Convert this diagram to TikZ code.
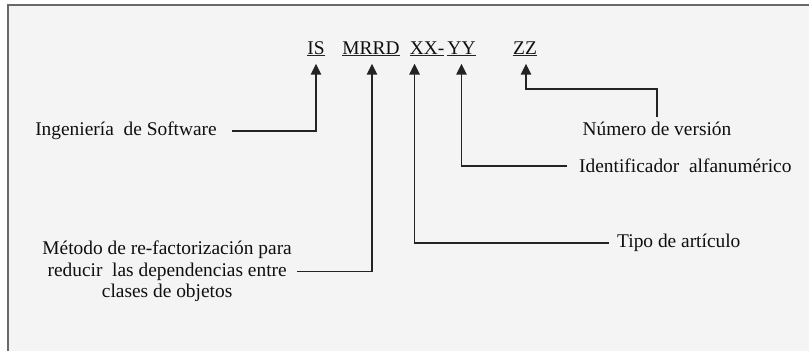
\documentclass[tikz,border=0pt]{standalone}
\usepackage{fontspec}
\setmainfont{Liberation Serif}
\usepackage{tikz}
\usetikzlibrary{arrows.meta}
\definecolor{fondo}{RGB}{244,244,244}
\definecolor{marco}{RGB}{105,105,105}
\definecolor{linea}{RGB}{35,35,35}
\definecolor{texto}{RGB}{15,15,15}

\begin{document}
\begin{tikzpicture}[x=1pt,y=-1pt,font=\fontsize{19.4}{21.5}\selectfont,
		codigo/.style={anchor=base,inner sep=0pt,text depth=1.5pt,text=texto},
		etiqueta/.style={inner sep=0pt,text=texto},
		flecha/.style={linea,line width=1.5pt,-{Triangle[width=10.5pt,length=11pt]},shorten >=8pt},
		subrayado/.style={linea,line width=1pt}]
	\useasboundingbox (0,0) rectangle (809,351);
	\fill[fondo] (8,5) rectangle (809,351);
	\draw[marco,line width=1.4pt] (8,351) -- (8,5) -- (809,5);
	
	\node[codigo] (is) at (316,54) {IS};
	\node[codigo] (mrrd) at (371,54) {MRRD};
	\node[codigo] (xx) at (427,54) {XX-};
	\node[codigo] (yy) at (461.5,54) {YY};
	\node[codigo] (zz) at (525,54) {ZZ};
	\foreach \n in {is,mrrd,xx,yy,zz}
	\draw[subrayado] (\n.south west) -- (\n.south east);
	
	\node[etiqueta,anchor=east,inner xsep=15pt] (ing) at (232,131) {Ingeniería~ de Software};
	\node[etiqueta,anchor=east,inner xsep=5pt,align=center] (met) at (297,271.5) {Método de re-factorización para\\reducir~ las dependencias entre\\clases de objetos};
	\node[etiqueta,anchor=north,inner ysep=5pt] (num) at (657,117) {Número de versión};
	\node[etiqueta,anchor=west,inner xsep=12pt] (ident) at (567,166) {Identificador~ alfanumérico};
	\node[etiqueta,anchor=west,inner xsep=8pt] (tipo) at (609,243) {Tipo de artículo};
	
	\draw[flecha] (ing.east) -| (is.south);
	\draw[flecha] (met.east) -| ([xshift=1pt]mrrd.south);
	\draw[flecha] (tipo.west) -| ([xshift=5pt]xx.south west);
	\draw[flecha] (ident.west) -| (yy.south);
	\draw[flecha] (num.north) -- ++(0,-28) -| ([xshift=1pt]zz.south);
\end{tikzpicture}
\end{document}
